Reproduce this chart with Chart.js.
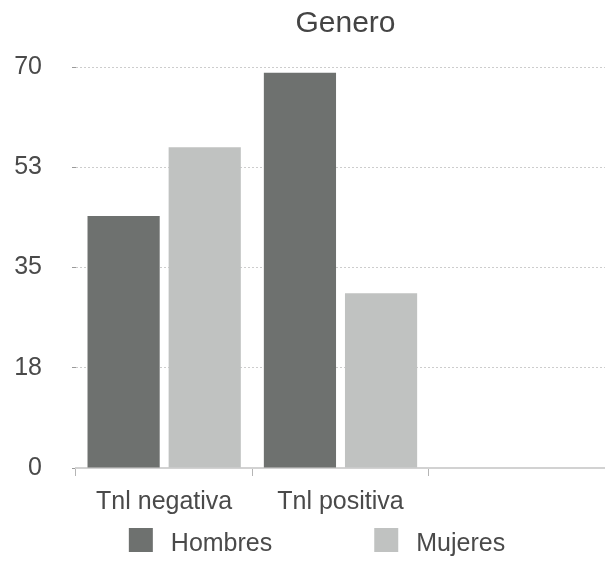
<!DOCTYPE html>
<html>
<head>
<meta charset="utf-8">
<script src="https://cdn.jsdelivr.net/npm/chart.js@4.4.0/dist/chart.umd.min.js"></script>
<style>
  html, body { margin: 0; padding: 0; background: #fff; overflow: hidden; }
  #wrap { width: 605px; height: 562px; position: relative; }
</style>
</head>
<body>
<div id="wrap"><canvas id="c"></canvas></div>
<script>
// Data
const categories = ['Tnl negativa', 'Tnl positiva', ''];
const hombres = [44, 69, null];
const mujeres = [56, 30.5, null];
const yTickLabels = ['0', '18', '35', '53', '70'];
const chartTitle = 'Genero';
const seriesNames = ['Hombres', 'Mujeres'];

// Styles
const seriesColors = ['#6e716f', '#c0c2c1'];
const FONT = "'Liberation Sans', Arial, Helvetica, sans-serif";
const TEXT = '#4a4a4a';

// Title centred a little to the right of the plot centre
const titlePlugin = {
  id: 'titleText',
  afterDraw(chart) {
    const { ctx, chartArea } = chart;
    ctx.save();
    ctx.font = '30px ' + FONT;
    ctx.fillStyle = '#444';
    ctx.textAlign = 'center';
    ctx.textBaseline = 'alphabetic';
    ctx.fillText(chartTitle, (chartArea.left + chartArea.right) / 2 + 5, 32);
    ctx.restore();
  }
};

// Wide-spaced legend row under the category labels
const legendPlugin = {
  id: 'wideLegend',
  afterDraw(chart) {
    const { ctx } = chart;
    const box = 24, gapText = 18, gapItems = 102, baseline = 551;
    ctx.save();
    ctx.font = '25px ' + FONT;
    const items = chart.data.datasets.map(ds => ({
      text: ds.label, color: ds.backgroundColor, w: ctx.measureText(ds.label).width
    }));
    const total = items.reduce((s, it) => s + box + gapText + it.w, 0) + gapItems * (items.length - 1);
    let x = 317 - total / 2;
    items.forEach(it => {
      ctx.fillStyle = it.color;
      ctx.fillRect(x, baseline - box + 1, box, box);
      ctx.fillStyle = TEXT;
      ctx.textAlign = 'left';
      ctx.textBaseline = 'alphabetic';
      ctx.fillText(it.text, x + box + gapText, baseline);
      x += box + gapText + it.w + gapItems;
    });
    ctx.restore();
  }
};

new Chart(document.getElementById('c'), {
  type: 'bar',
  data: {
    labels: categories,
    datasets: [
      { label: seriesNames[0], data: hombres, backgroundColor: seriesColors[0] },
      { label: seriesNames[1], data: mujeres, backgroundColor: seriesColors[1] }
    ]
  },
  options: {
    responsive: true,
    maintainAspectRatio: false,
    devicePixelRatio: 1,
    animation: false,
    categoryPercentage: 0.92,
    barPercentage: 0.89,
    layout: { padding: { left: 14, top: 67, right: 0, bottom: 34 } },
    plugins: {
      legend: { display: false },
      title: { display: false },
      tooltip: { enabled: false }
    },
    scales: {
      x: {
        offset: true,
        afterFit(scale) { scale.paddingLeft = 0; scale.paddingRight = 0; },
        grid: {
          offset: true,
          drawOnChartArea: false,
          drawTicks: true,
          tickLength: 8,
          tickColor: '#b5b5b5'
        },
        border: { display: true, color: '#d2d2d2', width: 2 },
        ticks: {
          font: { family: FONT, size: 25 },
          color: TEXT,
          padding: 11,
          maxRotation: 0,
          autoSkip: false
        }
      },
      y: {
        min: 0,
        max: 70,
        afterFit(scale) { scale.width = 62; },
        grid: {
          color: '#cdcdcd',
          lineWidth: 1,
          drawTicks: true,
          tickLength: 4,
          tickColor: '#9a9a9a'
        },
        border: { display: false, dash: [2, 2] },
        ticks: {
          stepSize: 17.5,
          font: { family: FONT, size: 25 },
          color: TEXT,
          padding: 30,
          callback: (v, i) => yTickLabels[i]
        }
      }
    }
  },
  plugins: [titlePlugin, legendPlugin]
});
</script>
</body>
</html>
